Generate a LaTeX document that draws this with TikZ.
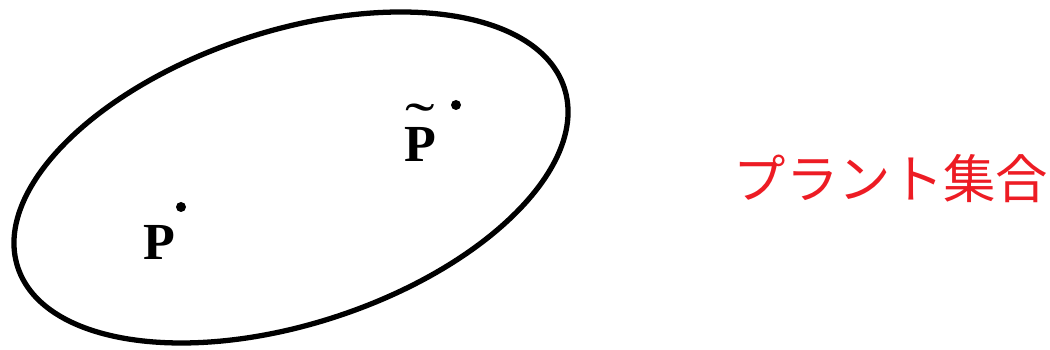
\documentclass[tikz,border=0pt]{standalone}
\usepackage{fontspec}
\usepackage{tikz}
\usepackage{xcolor}
\setmainfont{Liberation Serif}
\newfontfamily\jpfont{Noto Sans CJK JP}
\definecolor{Red}{HTML}{ED1C24}

\begin{document}
\begin{tikzpicture}[x=1cm,y=1cm,
    pt/.style={circle,fill=black,inner sep=0pt,minimum size=0.1cm},
    plant/.style={font=\fontsize{14.8pt}{16pt}\selectfont\bfseries,inner sep=0pt}]
  \useasboundingbox (0,0) rectangle (10.5,3.5);
  \draw[line width=1.5pt,rotate around={18.2:(2.91,1.725)}] (2.91,1.725) ellipse (2.876 and 1.463);
  \node[pt] (dotP) at (1.81,1.43) {};
  \node[pt] (dotPt) at (4.56,2.45) {};
  \node[plant,anchor=base] (P) at (1.59,0.90) {P};
  \node[plant,anchor=base] (Pt) at (4.20,1.88) {\ooalign{P\cr\hfil\raisebox{0.38em}{\scalebox{1.7}[1.1]{\mdseries ˜}}\hfil\cr}};
  \node[Red,font=\jpfont\fontsize{14.9pt}{16pt}\selectfont,inner sep=0pt] (setlabel) at (8.91,1.71) {プラント集合};
\end{tikzpicture}
\end{document}
